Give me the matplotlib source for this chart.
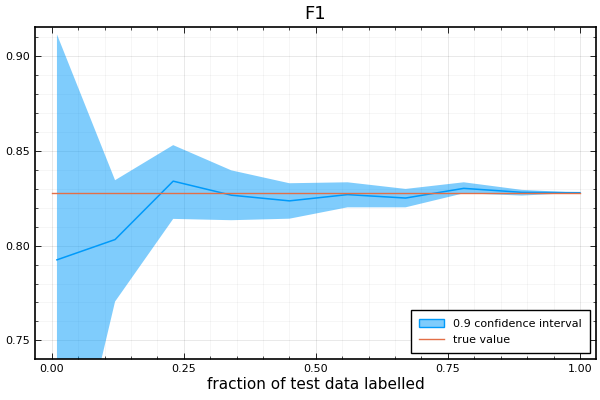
import numpy as np
import matplotlib
matplotlib.use("Agg")
import matplotlib.pyplot as plt
from matplotlib.ticker import AutoMinorLocator

# fraction of test data labelled
fractions = [0.01, 0.12, 0.23, 0.34, 0.45, 0.56, 0.67, 0.78, 0.89, 1.00]
# estimated F1
f1_mean = [0.7925, 0.8032, 0.8340, 0.8266, 0.8236, 0.8269, 0.8251, 0.8302, 0.8281, 0.8279]
ci_upper = [0.9114, 0.8345, 0.8530, 0.8397, 0.8329, 0.8334, 0.8299, 0.8334, 0.8294, 0.8279]
ci_lower = [0.6410, 0.7705, 0.8141, 0.8134, 0.8142, 0.8202, 0.8202, 0.8276, 0.8264, 0.8279]
true_f1 = 0.8278
true_x = [0.0, 1.0]

blue = "#009AFA"
orange = "#E36F47"

fig = plt.figure(figsize=(6, 4), dpi=100)
ax = fig.add_axes([0.0583, 0.1025, 0.935, 0.83])

ax.fill_between(fractions, ci_lower, ci_upper, color=blue, alpha=0.5,
                linewidth=0, label="0.9 confidence interval")
ax.plot(fractions, f1_mean, color=blue, linewidth=1.1)
ax.plot(true_x, [true_f1, true_f1], color=orange, linewidth=1.0, label="true value")

ax.set_xlim(-0.0316, 1.0303)
ax.set_ylim(0.7402, 0.9153)
ax.set_xticks([0.0, 0.25, 0.5, 0.75, 1.0])
ax.set_yticks([0.75, 0.80, 0.85, 0.90])
ax.xaxis.set_major_formatter(matplotlib.ticker.FormatStrFormatter("%.2f"))
ax.yaxis.set_major_formatter(matplotlib.ticker.FormatStrFormatter("%.2f"))
ax.xaxis.set_minor_locator(AutoMinorLocator(5))
ax.yaxis.set_minor_locator(AutoMinorLocator(5))

ax.grid(True, which="major", color="black", alpha=0.1, linewidth=0.6)
ax.grid(True, which="minor", color="black", alpha=0.05, linewidth=0.5)
ax.set_axisbelow(True)
ax.tick_params(which="both", direction="in", top=True, right=True, labelsize=8,
               color="black")
ax.tick_params(which="major", length=4, width=0.6)
ax.tick_params(which="minor", length=2, width=0.5)
for s in ax.spines.values():
    s.set_linewidth(1.2)

ax.set_title("F1", fontsize=13)
ax.set_xlabel("fraction of test data labelled", fontsize=11, labelpad=2)

leg = ax.legend(loc="lower right", fontsize=8, fancybox=False, edgecolor="black",
                framealpha=1, borderpad=0.8, handlelength=2.2)
leg.get_frame().set_linewidth(1.0)
leg.legend_handles[0].set_edgecolor(blue)
leg.legend_handles[0].set_linewidth(1.0)

fig.savefig("out.png", dpi=100)
